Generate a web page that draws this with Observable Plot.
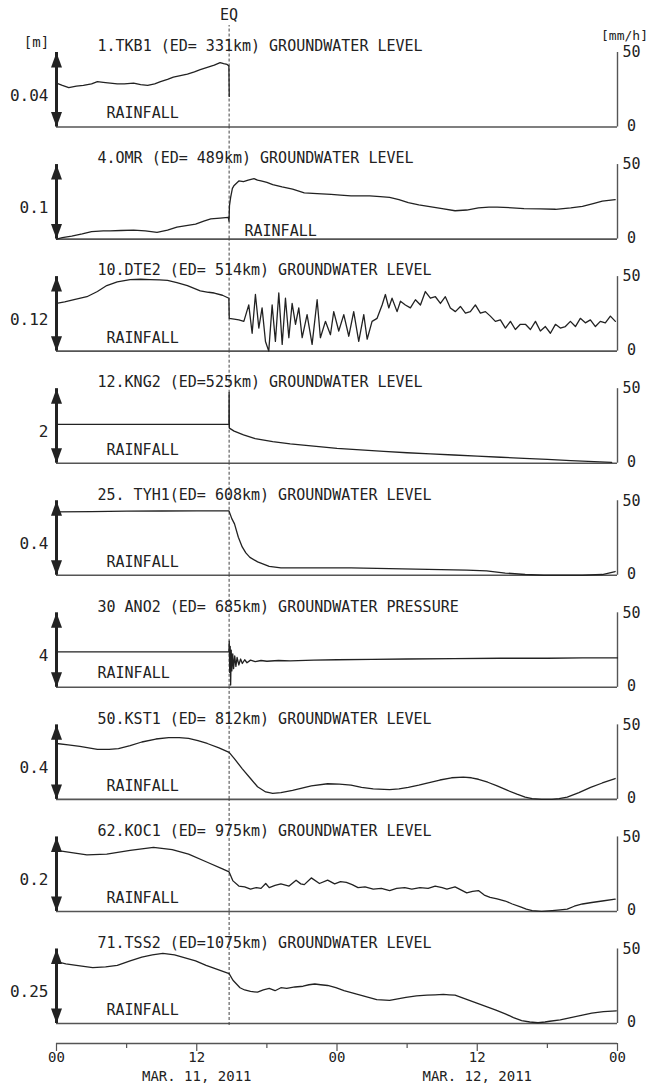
<!DOCTYPE html>
<html><head><meta charset="utf-8">
<script src="https://cdn.jsdelivr.net/npm/d3@7"></script>
<script src="https://cdn.jsdelivr.net/npm/@observablehq/plot@0.6"></script>
<style>
body{margin:0;background:#fff;}
#chart svg{display:block;}
</style></head><body><div id="chart"></div>
<script>
// ---- data ----
const stations = ["1.TKB1","4.OMR","10.DTE2","12.KNG2","25.TYH1","30.ANO2","50.KST1","62.KOC1","71.TSS2"];
const titles = [
  "1.TKB1 (ED= 331km) GROUNDWATER LEVEL",
  "4.OMR (ED= 489km) GROUNDWATER LEVEL",
  "10.DTE2 (ED= 514km) GROUNDWATER LEVEL",
  "12.KNG2 (ED=525km) GROUNDWATER LEVEL",
  "25. TYH1(ED= 608km) GROUNDWATER LEVEL",
  "30 ANO2 (ED= 685km) GROUNDWATER PRESSURE",
  "50.KST1 (ED= 812km) GROUNDWATER LEVEL",
  "62.KOC1 (ED= 975km) GROUNDWATER LEVEL",
  "71.TSS2 (ED=1075km) GROUNDWATER LEVEL"
];
const scaleLabels = ["0.04","0.1","0.12","2","0.4","4","0.4","0.2","0.25"]; // arrow span [m]
const eqHour = 14.77; // 14:46 JST
const majorTicks = [0,12,24,36,48];
const majorLabels = ["00","12","00","12","00"];
const minorTicks = [6,18,30,42];
const dateTicks = [12,36];
const dateLabels = ["MAR. 11, 2011","MAR. 12, 2011"];
const rainTicks = [0,50]; // mm/h

// groundwater level: [hour from Mar 11 00:00, level as fraction of arrow span]
const tkb1 = [[0,.59],[0.5,.56],[1.05,.53],[1.7,.55],[2.3,.56],[3.0,.58],[3.5,.61],[4.0,.60],[4.6,.59],[5.2,.58],[5.8,.58],[6.6,.59],[7.2,.57],[7.8,.56],[8.4,.58],[8.9,.61],[9.5,.64],[10,.67],[10.6,.69],[11.2,.71],[11.8,.74],[12.3,.77],[12.9,.80],[13.5,.83],[14.0,.865],[14.3,.85],[14.6,.84],[14.75,.82],[14.78,.41]];
const omr = [[0,0],[0.5,.02],[1.3,.04],[2.2,.07],[3,.10],[4,.11],[4.6,.11],[5.5,.115],[6.6,.12],[7.6,.11],[8.6,.09],[9.5,.12],[10.3,.16],[11.1,.18],[11.9,.20],[12.6,.24],[13.2,.27],[14,.28],[14.7,.29],[14.76,.24],[14.8,.45],[14.9,.56],[15.05,.68],[15.2,.72],[15.6,.78],[16,.77],[16.4,.79],[16.9,.81],[17.2,.79],[17.5,.78],[18,.76],[18.5,.73],[19.3,.70],[20.2,.67],[21.2,.62],[22.3,.61],[23.5,.60],[24.3,.59],[25.2,.58],[26,.58],[26.8,.58],[27.7,.57],[28.5,.56],[29.3,.53],[30.1,.49],[31,.46],[31.8,.44],[33,.41],[34.1,.38],[35.1,.39],[36.1,.42],[37,.43],[37.7,.43],[39,.42],[40,.41],[41.4,.405],[42.7,.40],[44,.42],[45,.44],[46,.48],[46.7,.51],[47.8,.53]];
const dte2 = [[0,.64],[0.7,.66],[1.5,.69],[2.6,.73],[3.5,.80],[4.3,.88],[5.2,.93],[6.3,.96],[7.2,.965],[8,.96],[8.8,.955],[9.5,.95],[10.3,.92],[11.2,.88],[12.3,.81],[13,.79],[13.5,.78],[14.2,.75],[14.75,.71],[14.78,.44],[15.2,.43],[15.6,.42],[16.03,.40],[16.45,.62],[16.74,.24],[17.02,.76],[17.31,.31],[17.59,.58],[17.88,.13],[18.16,0.0],[18.45,.62],[18.73,.13],[19.02,.78],[19.31,.09],[19.59,.71],[19.88,.18],[20.16,.64],[20.45,.36],[20.73,.58],[21.02,.18],[21.44,.49],[21.87,.09],[22.3,.69],[22.58,.18],[23.01,.40],[23.44,.22],[23.72,.53],[24.15,.27],[24.58,.49],[25.01,.20],[25.43,.53],[25.86,.13],[26.29,.49],[26.58,.16],[27.0,.40],[27.43,.44],[27.86,.62],[28.14,.76],[28.43,.58],[28.71,.71],[29.14,.53],[29.43,.67],[29.85,.62],[30.28,.58],[30.71,.69],[31.14,.62],[31.56,.80],[31.99,.71],[32.42,.73],[32.85,.64],[33.27,.73],[33.7,.58],[34.13,.53],[34.56,.60],[34.99,.51],[35.41,.53],[35.84,.62],[36.27,.51],[36.7,.53],[37.12,.47],[37.55,.40],[37.98,.42],[38.41,.31],[38.84,.40],[39.26,.29],[39.69,.36],[40.12,.36],[40.55,.29],[40.98,.40],[41.4,.27],[41.83,.33],[42.26,.24],[42.69,.36],[43.11,.31],[43.54,.33],[43.97,.40],[44.4,.33],[44.82,.44],[45.25,.38],[45.68,.42],[46.11,.33],[46.53,.40],[46.96,.38],[47.39,.47],[47.82,.40]];
const kng2 = [[0,.52],[4,.52],[8,.52],[12,.52],[14.75,.52],[14.77,.95],[14.79,.47],[15.2,.43],[16,.38],[17,.33],[18.5,.29],[20,.26],[22,.23],[24,.20],[26,.18],[28,.16],[30,.14],[32,.125],[34,.11],[36,.095],[38,.08],[40,.065],[42,.05],[44,.035],[46,.02],[47.5,.01]];
const tyh1 = [[0,.85],[3,.855],[6,.86],[9,.862],[12,.865],[14.75,.865],[15.0,.76],[15.23,.69],[15.56,.51],[15.89,.38],[16.2,.30],[16.55,.24],[17.21,.18],[18.2,.12],[19.2,.10],[21.8,.10],[25.2,.10],[28.5,.09],[31.8,.08],[35.1,.07],[36.8,.06],[38.4,.03],[40.1,.01],[41.7,0],[45,0],[46.7,.01],[47.8,.05]];
const ano2 = [[0,.475],[5,.475],[10,.475],[14.75,.475],[14.78,.62],[14.82,.2],[14.86,.55],[14.9,.03],[14.95,.5],[15.0,.22],[15.08,.45],[15.15,.25],[15.25,.42],[15.35,.28],[15.45,.40],[15.6,.30],[15.75,.38],[15.9,.32],[16.1,.37],[16.3,.33],[16.6,.365],[17,.345],[17.5,.36],[18,.35],[19,.36],[20,.355],[22,.365],[24,.37],[27,.375],[30,.38],[34,.385],[38,.39],[42,.39],[45,.395],[48,.395]];
const kst1 = [[0,.75],[1,.73],[2,.71],[3.5,.67],[4.5,.67],[5.3,.68],[6.3,.72],[7.3,.77],[8.5,.81],[9.6,.83],[10.5,.83],[11.3,.82],[12.1,.79],[12.9,.75],[13.9,.69],[14.77,.63],[15.2,.55],[15.9,.41],[16.6,.28],[17.2,.17],[17.9,.10],[18.5,.08],[19.2,.09],[20.2,.12],[21,.15],[21.8,.18],[23.2,.21],[24.2,.205],[25.2,.19],[26.1,.16],[27.1,.14],[28.5,.13],[29.3,.14],[30.1,.16],[31,.19],[31.8,.22],[32.8,.26],[33.8,.29],[34.8,.30],[35.5,.29],[36.1,.27],[36.9,.23],[37.7,.18],[38.6,.12],[39.4,.07],[40.1,.03],[40.7,.01],[41.5,0],[42.4,0],[43,.01],[43.7,.03],[44.7,.09],[45.7,.16],[46.7,.22],[47.8,.28]];
const koc1 = [[0,.82],[1.3,.79],[2.6,.76],[4.3,.77],[6.3,.82],[8.3,.86],[9.9,.83],[11.3,.77],[12.9,.66],[14.2,.57],[14.77,.53],[15.1,.41],[15.6,.34],[16.1,.33],[16.6,.30],[17.1,.32],[17.5,.31],[17.9,.375],[18.2,.32],[18.7,.35],[19.2,.37],[19.9,.34],[20.5,.42],[20.9,.37],[21.2,.36],[21.8,.45],[22.5,.375],[23.2,.42],[23.8,.37],[24.3,.40],[24.8,.39],[25.3,.36],[25.8,.32],[26.4,.33],[27.1,.30],[27.8,.31],[28.5,.28],[29.1,.31],[29.8,.32],[30.4,.30],[31.1,.32],[31.8,.31],[32.4,.34],[33,.32],[33.4,.30],[34.1,.33],[34.6,.29],[35.1,.25],[35.6,.27],[36.1,.28],[36.6,.22],[37.1,.19],[37.7,.17],[38.4,.14],[39,.10],[39.7,.06],[40.2,.03],[40.7,.01],[41.5,0],[42.4,.01],[43.1,.02],[43.7,.03],[44.3,.07],[45,.10],[45.8,.12],[46.7,.14],[47.8,.165]];
const tss2 = [[0,.83],[0.8,.80],[1.7,.78],[3.1,.75],[4.2,.76],[5.2,.78],[6.3,.84],[7.3,.89],[8.2,.92],[9.1,.94],[10.1,.92],[11,.88],[11.9,.84],[12.8,.78],[13.7,.73],[14.77,.67],[15.1,.58],[15.4,.53],[15.7,.48],[16.1,.45],[16.6,.43],[17.2,.42],[17.7,.45],[18.2,.47],[18.7,.44],[19.2,.48],[19.7,.47],[20.4,.49],[21.1,.50],[21.6,.52],[22.1,.53],[22.6,.52],[23.2,.51],[23.9,.48],[24.6,.44],[25.3,.41],[26,.38],[26.7,.35],[27.4,.32],[28.5,.31],[29.2,.33],[29.9,.35],[30.8,.37],[31.7,.38],[32.4,.385],[33.1,.39],[33.6,.385],[34.1,.38],[34.8,.34],[35.5,.30],[36.2,.26],[36.9,.22],[37.6,.18],[38.4,.13],[39.1,.08],[39.8,.04],[40.5,.02],[41.2,.01],[41.8,.02],[42.2,.03],[43.1,.05],[44,.08],[44.9,.11],[45.8,.14],[46.8,.16],[47.9,.17]];
const series = [tkb1, omr, dte2, kng2, tyh1, ano2, kst1, koc1, tss2];

// ---- layout ----
const W = 649, H = 1084, mL = 56, mR = 32, mT = 52, mB = 61;
const pad = 0.335;
const nP = stations.length;
const step = (H - mT - mB) / (nP - pad);
const band = step * (1 - pad);
const u = 1 / band;          // one pixel in y units
const gapU = (step - band) * u;

const rows = series.flatMap((s, i) => s.map(([h, v]) => ({st: stations[i], h, v})));
const first = stations[0], last = stations[nP - 1];
const eqRows = stations.map((s, i) => ({st: s, y1: i === nP - 1 ? -2 * u : 0, y2: 1 + (i === 0 ? 27 * u : gapU)}));
const rainMain = stations.filter((s, i) => i !== 1 && i !== 5);

const font = "'DejaVu Sans Mono', 'Liberation Mono', monospace";
const ink = "#222";

const upHead = {draw(c){ c.moveTo(0,0); c.lineTo(-5.5,15); c.lineTo(5.5,15); c.closePath(); }};
const downHead = {draw(c){ c.moveTo(0,0); c.lineTo(-5.5,-15); c.lineTo(5.5,-15); c.closePath(); }};

const plot = Plot.plot({
  width: W, height: H,
  marginLeft: mL, marginRight: mR, marginTop: mT, marginBottom: mB,
  x: {domain: [0, 48], axis: null},
  y: {domain: [0, 1], axis: null},
  fy: {domain: stations, axis: null, paddingInner: pad, paddingOuter: 0, round: false},
  style: {fontFamily: font, fontSize: "15px", color: ink, background: "#fff", overflow: "visible"},
  marks: [
    // rainfall baseline (0 mm/h) and right rainfall axis
    Plot.ruleY([0], {stroke: "#555", strokeWidth: 1.6}),
    Plot.ruleX([48], {y1: 0, y2: 1, stroke: "#555", strokeWidth: 1.4}),
    Plot.text([rainTicks[1]], {x: 48, y: d => d / 50, dx: 14, text: d => String(d), fill: ink, fontSize: 15}),
    Plot.text([rainTicks[0]], {x: 48, y: d => d / 50, dx: 14, dy: -1, text: d => String(d), fill: ink, fontSize: 15}),
    // EQ dashed line
    Plot.ruleX(eqRows, {x: eqHour, fy: "st", y1: "y1", y2: "y2", stroke: "#444", strokeWidth: 1, strokeDasharray: "3,2"}),
    // groundwater lines
    Plot.line(rows, {x: "h", y: "v", fy: "st", z: "st", stroke: ink, strokeWidth: 1.3, curve: "linear"}),
    // left double arrow
    Plot.ruleX([0], {y1: 0, y2: 1, stroke: ink, strokeWidth: 3}),
    Plot.dot([1], {x: 0, y: 1, symbol: upHead, fill: ink, stroke: null}),
    Plot.dot([0], {x: 0, y: 0, symbol: downHead, fill: ink, stroke: null}),
    Plot.text(stations, {fy: d => d, x: 0, y: 0.42, dx: -8, textAnchor: "end", text: (d, i) => scaleLabels[i], fontSize: 16, fill: ink}),
    // titles
    Plot.text(stations, {fy: d => d, x: 0, y: 1, dx: 41, dy: -6, textAnchor: "start", text: (d, i) => titles[i], fill: ink}),
    // RAINFALL labels
    Plot.text(rainMain, {fy: d => d, x: 0, y: 0.18, dx: 50, textAnchor: "start", text: () => "RAINFALL", fill: ink}),
    Plot.text([stations[1]], {fy: d => d, x: 0, y: 0.11, dx: 188, textAnchor: "start", text: () => "RAINFALL", fill: ink}),
    Plot.text([stations[5]], {fy: d => d, x: 0, y: 0.19, dx: 41, textAnchor: "start", text: () => "RAINFALL", fill: ink}),
    // unit labels and EQ label
    Plot.text([first], {fy: d => d, x: 0, y: 1, dx: -20, dy: -10, text: () => "[m]", fontSize: 14, fill: ink}),
    Plot.text([first], {fy: d => d, x: 48, y: 1, dx: 7, dy: -17, text: () => "[mm/h]", fontSize: 13, fill: ink}),
    Plot.text([first], {fy: d => d, x: eqHour, y: 1, dy: -37, text: () => "EQ", fill: ink}),
    // time axis below last panel
    Plot.ruleY([last], {fy: d => d, y: -20 * u, stroke: "#555", strokeWidth: 1.4}),
    Plot.ruleX(majorTicks, {x: d => d, fy: () => last, y1: -20 * u, y2: -28 * u, stroke: "#555", strokeWidth: 1.2}),
    Plot.ruleX(minorTicks, {x: d => d, fy: () => last, y1: -20 * u, y2: -25 * u, stroke: "#555", strokeWidth: 1.2}),
    Plot.text(majorTicks, {x: d => d, fy: () => last, y: -34 * u, text: (d, i) => majorLabels[i], fill: ink, fontSize: 14}),
    Plot.text(dateTicks, {x: d => d, fy: () => last, y: -53 * u, text: (d, i) => dateLabels[i], fill: ink, fontSize: 14})
  ]
});
document.getElementById("chart").appendChild(plot);
</script>
</body></html>
